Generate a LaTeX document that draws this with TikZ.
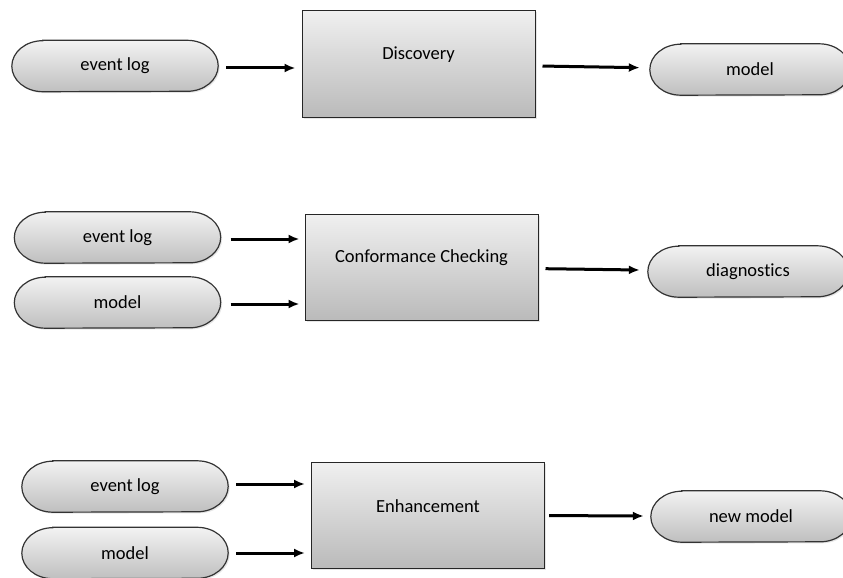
\documentclass[tikz,border=0pt]{standalone}
\usepackage{fontspec}
\setmainfont{Carlito}[Ligatures=NoCommon]
\usetikzlibrary{arrows.meta,backgrounds,shadows}

\tikzset{
  % text-only holder; the elliptical-ended outline is drawn on the background layer
  pill/.style={minimum width=206pt, minimum height=51pt, inner sep=0pt,
    font=\fontsize{18.5}{22}\selectfont},
  pillshape/.style={draw=black!80, line width=1.2pt,
    top color=white!95!black, bottom color=black!25,
    drop shadow={opacity=0.2, shadow xshift=1.5pt, shadow yshift=-1.5pt}},
  procbox/.style={draw=black!85, line width=1pt,
    top color=white!94!black, bottom color=black!27,
    drop shadow={opacity=0.2, shadow xshift=1.5pt, shadow yshift=-1.5pt},
    minimum width=233pt, minimum height=106pt, inner sep=0pt},
  boxtext/.style={font=\fontsize{18.5}{22}\selectfont, yshift=9pt},
  arr/.style={line width=3pt, -{Latex[length=11pt,width=9pt]}}
}

\begin{document}
\begin{tikzpicture}[x=1pt,y=-1pt]
  \useasboundingbox (0,0) rectangle (843,578);
  \clip (0,0) rectangle (843,578);

  % Discovery
  \node[pill] (ev1) at (115,66) {event log};
  \node[procbox, label={[boxtext]center:Discovery}] (disc) at (418.5,64) {};
  \node[pill, minimum width=200pt] (m1) at (750,69.5) {model};
  \draw[arr, shorten <=8pt, shorten >=6pt] ([yshift=-2pt]ev1.east) -- ([yshift=-2pt]ev1.east -| disc.west);
  \draw[arr, shorten <=7pt, shorten >=10pt] (disc) -- (m1);

  % Conformance Checking
  \node[pill] (ev2) at (117.5,237.5) {event log};
  \node[pill] (m2) at (117.5,302.5) {model};
  \node[procbox, label={[boxtext]center:Conformance Checking}] (conf) at (421.5,267) {};
  \node[pill, minimum width=200pt] (diag) at (748,271.5) {diagnostics};
  \draw[arr, shorten <=10pt, shorten >=5pt] ([yshift=-1.5pt]ev2.east) -- ([yshift=-1.5pt]ev2.east -| conf.west);
  \draw[arr, shorten <=10pt, shorten >=5pt] ([yshift=-1.5pt]m2.east) -- ([yshift=-1.5pt]m2.east -| conf.west);
  \draw[arr, shorten <=7pt, shorten >=8pt] (conf) -- (diag);

  % Enhancement
  \node[pill] (ev3) at (125,486.5) {event log};
  \node[pill] (m3) at (125,553) {model};
  \node[procbox, label={[boxtext]center:Enhancement}] (enh) at (428,515) {};
  \node[pill, minimum width=200pt] (nm) at (751,516.5) {new model};
  \draw[arr, shorten <=8pt, shorten >=6pt] ([yshift=2.5pt]ev3.east) -- ([yshift=2.5pt]ev3.east -| enh.west);
  \draw[arr, shorten <=8pt, shorten >=6pt] (m3.east) -- (m3.east -| enh.west);
  \draw[arr, shorten <=4pt, shorten >=7pt] (enh) -- (nm);

  % pill outlines with elliptical ends, behind the labels
  \begin{scope}[on background layer]
    \foreach \n in {ev1,m1,ev2,m2,diag,ev3,m3,nm}{
      \path[pillshape]
        ([xshift=31pt]\n.north west) -- ([xshift=-31pt]\n.north east)
        arc[start angle=90, end angle=-90, x radius=31pt, y radius=25.5pt]
        -- ([xshift=31pt]\n.south west)
        arc[start angle=-90, end angle=-270, x radius=31pt, y radius=25.5pt]
        -- cycle;
    }
  \end{scope}
\end{tikzpicture}
\end{document}
